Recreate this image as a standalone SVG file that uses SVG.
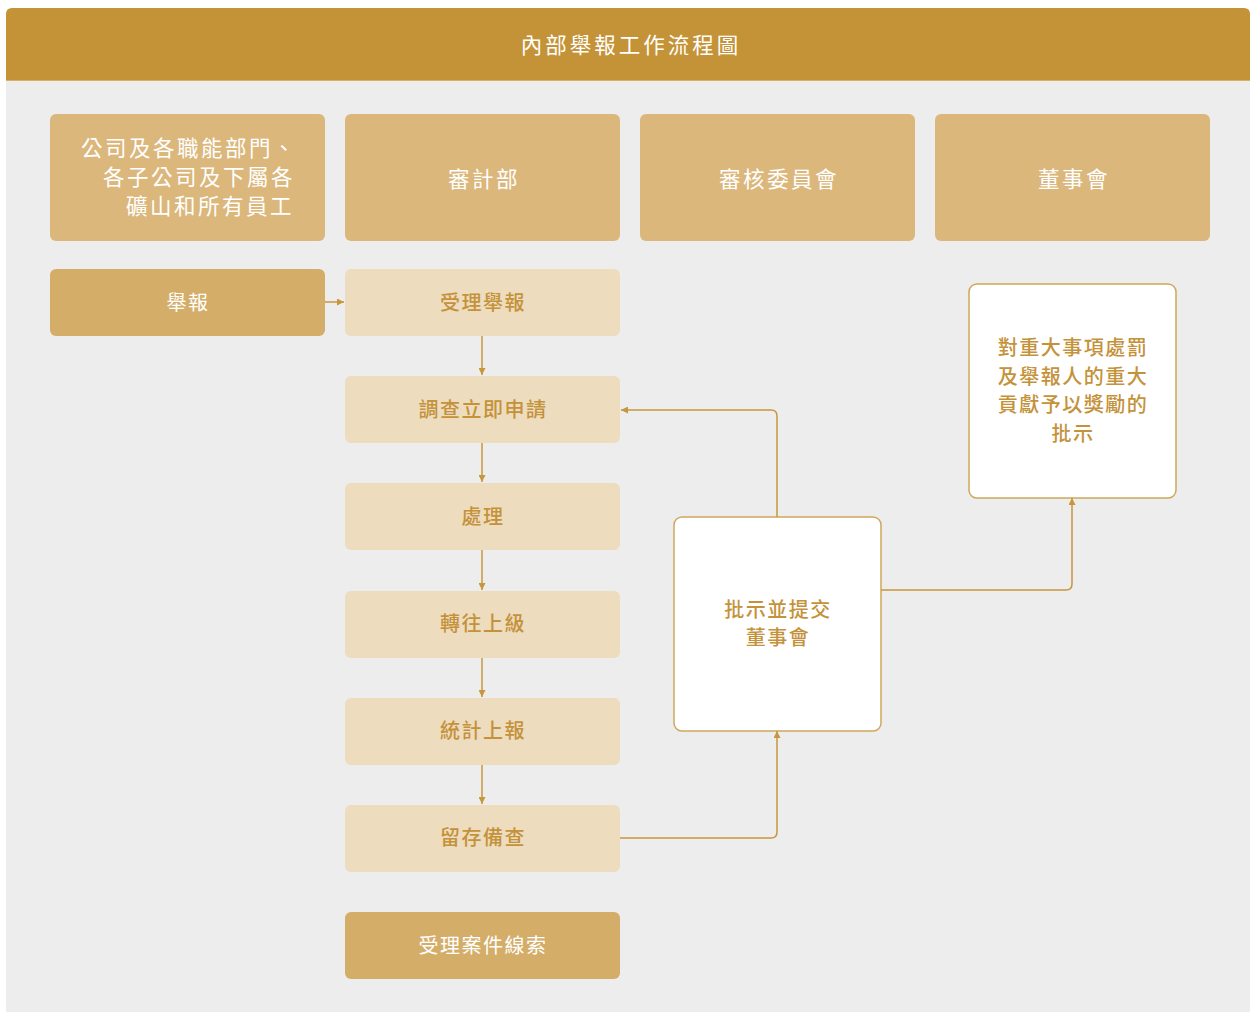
<svg xmlns="http://www.w3.org/2000/svg" width="1250" height="1012" viewBox="0 0 1250 1012">
<defs>
<style>
text{font-family:"Noto Sans CJK TC","Noto Sans CJK SC",sans-serif;dominant-baseline:central;text-anchor:middle}
.hdr{fill:#dbb77c}
.dark{fill:#d4ad69}
.light{fill:#eddcbe}
.white{fill:#ffffff;stroke:#d0a65a;stroke-width:1.5}
.tw{fill:#ffffff;font-size:21.5px;letter-spacing:2.5px}
.tw2{fill:#ffffff;font-size:20px;letter-spacing:1.5px}
.tg{fill:#c4923a;font-size:20px;letter-spacing:1.5px;font-weight:500}
.conn{fill:none;stroke:#c8963c;stroke-width:1.5}
</style>
<marker id="arr" viewBox="0 0 10 10" refX="10" refY="5" markerWidth="7" markerHeight="7" markerUnits="userSpaceOnUse" orient="auto">
<path d="M0,0 L10,5 L0,10 z" fill="#c8963c"/>
</marker>
</defs>
<rect x="0" y="0" width="1250" height="1012" fill="#ffffff"/>
<rect x="6" y="80" width="1244" height="932" fill="#ededed"/>
<path d="M6,80 V14 Q6,8 12,8 H1244 Q1250,8 1250,14 V80 Z" fill="#c49337"/>
<line x1="6" y1="80.5" x2="1250" y2="80.5" stroke="#d8b06a" stroke-width="1"/>
<text x="631" y="43" class="tw" style="letter-spacing:3px">內部舉報工作流程圖</text>

<g id="col1"><rect class="hdr" x="50" y="114" width="275" height="127" rx="6"/>
<text class="tw" style="text-anchor:start" x="81" y="146">公司及各職能部門、</text>
<text class="tw" style="text-anchor:start" x="103" y="175">各子公司及下屬各</text>
<text class="tw" style="text-anchor:start" x="126" y="204">礦山和所有員工</text></g>
<g id="col2"><rect class="hdr" x="345" y="114" width="275" height="127" rx="6"/><text class="tw" x="484" y="177">審計部</text></g>
<g id="col3"><rect class="hdr" x="640" y="114" width="275" height="127" rx="6"/><text class="tw" x="779" y="177">審核委員會</text></g>
<g id="col4"><rect class="hdr" x="935" y="114" width="275" height="127" rx="6"/><text class="tw" x="1074" y="177">董事會</text></g>

<g id="report"><rect class="dark" x="50" y="269" width="275" height="67" rx="6"/><text class="tw2" x="188" y="301">舉報</text></g>
<g id="accept"><rect class="light" x="345" y="269" width="275" height="67" rx="6"/><text class="tg" x="483" y="301">受理舉報</text></g>
<g id="investigate"><rect class="light" x="345" y="376" width="275" height="67" rx="6"/><text class="tg" x="483" y="408">調查立即申請</text></g>
<g id="handle"><rect class="light" x="345" y="483" width="275" height="67" rx="6"/><text class="tg" x="483" y="515">處理</text></g>
<g id="escalate"><rect class="light" x="345" y="591" width="275" height="67" rx="6"/><text class="tg" x="483" y="622">轉往上級</text></g>
<g id="stats"><rect class="light" x="345" y="698" width="275" height="67" rx="6"/><text class="tg" x="483" y="729">統計上報</text></g>
<g id="archive"><rect class="light" x="345" y="805" width="275" height="67" rx="6"/><text class="tg" x="483" y="836">留存備查</text></g>
<g id="clues"><rect class="dark" x="345" y="912" width="275" height="67" rx="6"/><text class="tw2" x="483" y="944">受理案件線索</text></g>

<g id="approve"><rect class="white" x="674" y="517" width="207" height="214" rx="8"/>
<text class="tg" x="778" y="608">批示並提交</text><text class="tg" x="778" y="636">董事會</text></g>
<g id="board-decision"><rect class="white" x="969" y="284" width="207" height="214" rx="8"/>
<text class="tg" x="1073" y="346">對重大事項處罰</text>
<text class="tg" x="1073" y="375">及舉報人的重大</text>
<text class="tg" x="1073" y="403">貢獻予以獎勵的</text>
<text class="tg" x="1073" y="432">批示</text></g>

<g id="connectors">
<path class="conn" d="M325,302 H344" marker-end="url(#arr)"/>
<path class="conn" d="M482,336 V375" marker-end="url(#arr)"/>
<path class="conn" d="M482,443 V482" marker-end="url(#arr)"/>
<path class="conn" d="M482,550 V590" marker-end="url(#arr)"/>
<path class="conn" d="M482,658 V697" marker-end="url(#arr)"/>
<path class="conn" d="M482,765 V804" marker-end="url(#arr)"/>
<path class="conn" d="M777,517 V416 Q777,410 771,410 H621" marker-end="url(#arr)"/>
<path class="conn" d="M881,590 H1066 Q1072,590 1072,584 V498" marker-end="url(#arr)"/>
<path class="conn" d="M620,838 H771 Q777,838 777,832 V731" marker-end="url(#arr)"/>
</g>
</svg>
